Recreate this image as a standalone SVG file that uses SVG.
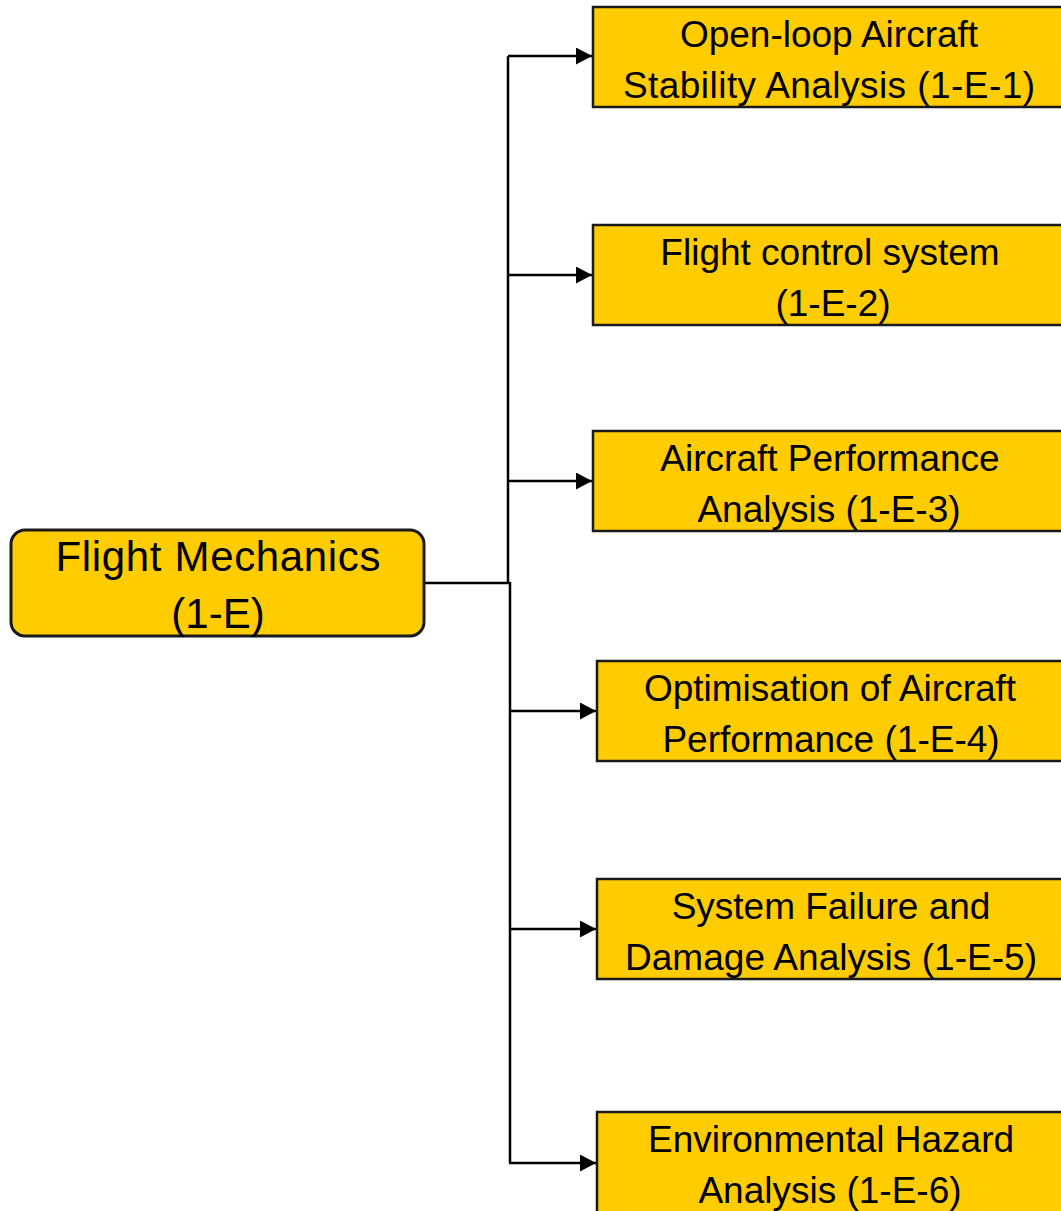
<svg xmlns="http://www.w3.org/2000/svg" width="1061" height="1211" viewBox="0 0 1061 1211">
  <style>
    .box { fill: #FFCC00; stroke: #1a1a1a; stroke-width: 2.5; }
    .lbl { font-family: "Liberation Sans", Arial, sans-serif; font-size: 37px; fill: #000; text-anchor: middle; }
    .root-lbl { font-size: 42px; }
    .wire { fill: none; stroke: #000; stroke-width: 2.5; }
  </style>
  <defs>
    <marker id="arrow" markerUnits="userSpaceOnUse" markerWidth="16" markerHeight="17" viewBox="0 0 16 17" refX="16" refY="8.5" orient="auto">
      <path d="M0,0 L16,8.5 L0,17 Z" fill="#000"/>
    </marker>
  </defs>
  <rect width="1061" height="1211" fill="#fff"/>

  <!-- connectors -->
  <g id="connectors">
    <path class="wire" d="M423,583 H510"/>
    <path class="wire" d="M508,584 V56"/>
    <path class="wire" d="M510,582 V1163"/>
    <path class="wire" d="M508,56 H592" marker-end="url(#arrow)"/>
    <path class="wire" d="M508,275 H592" marker-end="url(#arrow)"/>
    <path class="wire" d="M508,481 H592" marker-end="url(#arrow)"/>
    <path class="wire" d="M510,711 H596" marker-end="url(#arrow)"/>
    <path class="wire" d="M510,929 H596" marker-end="url(#arrow)"/>
    <path class="wire" d="M509,1163 H596" marker-end="url(#arrow)"/>
  </g>

  <!-- root -->
  <g id="flight-mechanics">
    <rect class="box" x="11" y="530" width="413" height="106" rx="14" style="stroke-width:3"/>
    <text class="lbl root-lbl" x="218" y="571" textLength="325">Flight Mechanics</text>
    <text class="lbl root-lbl" x="218" y="628">(1-E)</text>
  </g>

  <!-- sub-topics -->
  <g id="node-1-e-1">
    <rect class="box" x="593" y="7" width="480" height="100"/>
    <text class="lbl" x="829" y="47">Open-loop Aircraft</text>
    <text class="lbl" x="829" y="98" textLength="412">Stability Analysis (1-E-1)</text>
  </g>
  <g id="node-1-e-2">
    <rect class="box" x="593" y="225" width="480" height="100"/>
    <text class="lbl" x="830" y="265">Flight control system</text>
    <text class="lbl" x="833" y="316">(1-E-2)</text>
  </g>
  <g id="node-1-e-3">
    <rect class="box" x="593" y="431" width="480" height="100"/>
    <text class="lbl" x="830" y="471">Aircraft Performance</text>
    <text class="lbl" x="829" y="522">Analysis (1-E-3)</text>
  </g>
  <g id="node-1-e-4">
    <rect class="box" x="597" y="661" width="480" height="100"/>
    <text class="lbl" x="830" y="701">Optimisation of Aircraft</text>
    <text class="lbl" x="831" y="752">Performance (1-E-4)</text>
  </g>
  <g id="node-1-e-5">
    <rect class="box" x="597" y="879" width="480" height="100"/>
    <text class="lbl" x="831" y="919">System Failure and</text>
    <text class="lbl" x="831" y="970" textLength="412">Damage Analysis (1-E-5)</text>
  </g>
  <g id="node-1-e-6">
    <rect class="box" x="597" y="1112" width="480" height="110"/>
    <text class="lbl" x="831" y="1152">Environmental Hazard</text>
    <text class="lbl" x="830" y="1203">Analysis (1-E-6)</text>
  </g>
</svg>
